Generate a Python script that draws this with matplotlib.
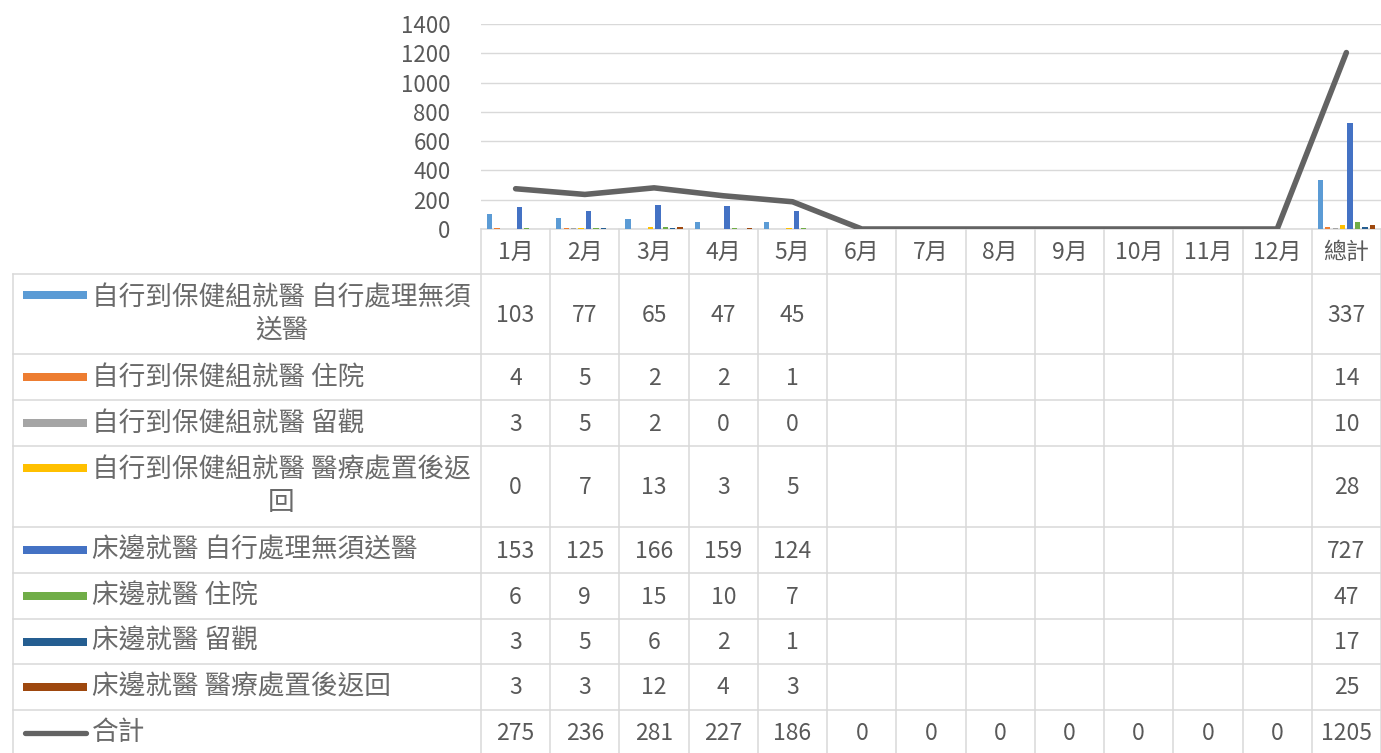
import matplotlib
matplotlib.use("Agg")
import matplotlib.pyplot as plt
import numpy as np

plt.rcParams['font.family'] = ['Noto Sans CJK TC', 'DejaVu Sans']

categories = ["1月", "2月", "3月", "4月", "5月", "6月", "7月", "8月", "9月", "10月", "11月", "12月", "總計"]

series_names = [
    "自行到保健組就醫 自行處理無須\n送醫",
    "自行到保健組就醫 住院",
    "自行到保健組就醫 留觀",
    "自行到保健組就醫 醫療處置後返\n回",
    "床邊就醫 自行處理無須送醫",
    "床邊就醫 住院",
    "床邊就醫 留觀",
    "床邊就醫 醫療處置後返回",
]
s1 = [103, 77, 65, 47, 45, None, None, None, None, None, None, None, 337]
s2 = [4, 5, 2, 2, 1, None, None, None, None, None, None, None, 14]
s3 = [3, 5, 2, 0, 0, None, None, None, None, None, None, None, 10]
s4 = [0, 7, 13, 3, 5, None, None, None, None, None, None, None, 28]
s5 = [153, 125, 166, 159, 124, None, None, None, None, None, None, None, 727]
s6 = [6, 9, 15, 10, 7, None, None, None, None, None, None, None, 47]
s7 = [3, 5, 6, 2, 1, None, None, None, None, None, None, None, 17]
s8 = [3, 3, 12, 4, 3, None, None, None, None, None, None, None, 25]
total_name = "合計"
total = [275, 236, 281, 227, 186, 0, 0, 0, 0, 0, 0, 0, 1205]

bar_series = [s1, s2, s3, s4, s5, s6, s7, s8]
colors = ["#5B9BD5", "#ED7D31", "#A5A5A5", "#FFC000", "#4472C4", "#70AD47", "#255E91", "#9E480E"]
line_color = "#636363"
text_color = "#595959"
label_color = "#6A6A6A"
grid_color = "#D9D9D9"

W, H = 1381, 753
fig = plt.figure(figsize=(W / 100, H / 100), dpi=100)

# layout (pixels)
X0, X1 = 481, 1381
Y_top, Y_zero = 24, 229
CW = (X1 - X0) / len(categories)

# table overlay axes in pixel coords
tab = fig.add_axes([0, 0, 1, 1])
tab.set_xlim(0, W)
tab.set_ylim(H, 0)
tab.axis('off')

# main chart axes
ax = fig.add_axes([X0 / W, 1 - Y_zero / H, (X1 - X0) / W, (Y_zero - Y_top) / H])
ax.patch.set_alpha(0)
n = len(categories)
x = np.arange(n)
slot = 0.1077
bw = 0.078
for i, (vals, c) in enumerate(zip(bar_series, colors)):
    v = np.array([np.nan if a is None else a for a in vals], dtype=float)
    ax.bar(x + (i - 3.5) * slot, v, width=bw, color=c, zorder=3)
ax.plot(x, total, color=line_color, lw=4.0, zorder=4, solid_capstyle='round', solid_joinstyle='round')
ax.set_xlim(-0.5, n - 0.5)
ax.set_ylim(0, 1400)
ax.set_yticks(np.arange(0, 1401, 200))
ax.set_yticklabels([str(v) for v in range(0, 1401, 200)])
ax.tick_params(axis='y', length=0, pad=22, labelsize=16, labelcolor=text_color)
ax.set_xticks([])
ax.grid(axis='y', color=grid_color, lw=1.0, zorder=0)
for s in ax.spines.values():
    s.set_visible(False)

# table rows (pixel boundaries)
row_bounds = [229, 274, 354, 400, 446, 527, 573, 619, 664, 710, 756]
LX = 13
lc = grid_color
lw = 1.1
# horizontal lines
tab.plot([X0, X1], [row_bounds[0], row_bounds[0]], color=lc, lw=lw)
for yb in row_bounds[1:]:
    tab.plot([LX, X1], [yb, yb], color=lc, lw=lw)
# vertical lines
for i in range(n + 1):
    xv = X0 + i * CW
    tab.plot([xv, xv], [row_bounds[0], row_bounds[-1]], color=lc, lw=lw)
tab.plot([LX, LX], [row_bounds[1], row_bounds[-1]], color=lc, lw=lw)

num_fs = 16.5
lab_fs = 19.2
# header
for i, cname in enumerate(categories):
    tab.text(X0 + (i + 0.5) * CW, (row_bounds[0] + row_bounds[1]) / 2 + 1, cname,
             ha='center', va='center', fontsize=num_fs, color=text_color)

all_rows = bar_series + [total]
all_names = series_names + [total_name]
for r, (vals, name) in enumerate(zip(all_rows, all_names)):
    yc = (row_bounds[r + 1] + row_bounds[r + 2]) / 2
    # legend key
    if r < len(bar_series):
        off = 19 if '\n' in name else 0
        tab.add_patch(plt.Rectangle((23, yc - 4 - off), 64, 8, color=colors[r], lw=0))
    else:
        tab.plot([25, 86], [yc, yc], color=line_color, lw=3.8, solid_capstyle='round')
    tab.text(92, yc, name, ha='left', va='center', multialignment='center',
             fontsize=lab_fs, color=label_color, linespacing=1.25)
    for i, v in enumerate(vals):
        if v is None:
            continue
        tab.text(X0 + (i + 0.5) * CW, yc + 1, str(v), ha='center', va='center',
                 fontsize=num_fs, color=text_color)

fig.savefig("out.png", dpi=100)
